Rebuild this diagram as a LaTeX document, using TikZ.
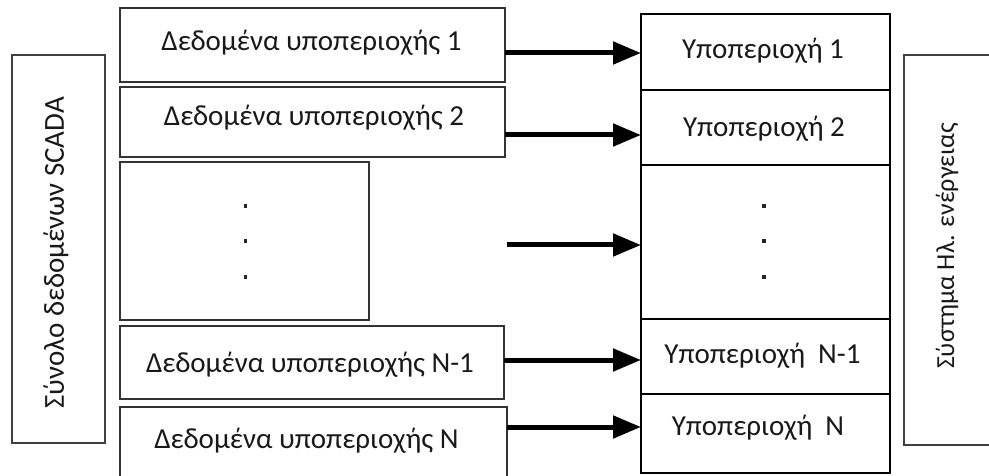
\documentclass[tikz,border=0pt]{standalone}
\usepackage{fontspec}
\setmainfont{Carlito}
\usetikzlibrary{arrows.meta,fit}
\begin{document}
\begin{tikzpicture}[x=1pt,y=-1pt,
  every node/.style={font=\fontsize{29}{34}\selectfont, text=black!90},
  label text/.style={anchor=base, inner sep=0pt},
  databox/.style={draw=black!80, line width=2pt, inner sep=0pt, outer sep=0pt},
  areabox/.style={draw=black, line width=1.8pt, inner sep=0pt, outer sep=0pt},
  sidebox/.style={draw=black!75, line width=2pt, inner sep=0pt, outer sep=0pt},
  feed/.style={line width=5pt, -{Triangle[length=28pt,width=22pt]}},
  vdot/.style={fill=black!85, minimum size=3.4pt, inner sep=0pt, outer sep=0pt, rectangle}
]
\useasboundingbox (0,0) rectangle (989,476);

% SCADA data set (left) and power system (right)
\node[sidebox, fit={(12,55) (105,443)}] (scada) {};
\node[rotate=90] (scadatxt) at (56,253) {Σύνολο δεδομένων SCADA};
\node[sidebox, fit={(904,55) (1010,445)}] (grid) {};
\node[rotate=90, font=\fontsize{26}{31}\selectfont] (gridtxt) at (947,246) {Σύστημα Ηλ. ενέργειας};

% per-area data blocks
\node[databox, fit={(120,8) (505,82)}] (l1) {};
\node[databox, fit={(120,87) (505,157)}] (l2) {};
\node[databox, fit={(120,162) (369,320)}] (ld) {};
\node[databox, fit={(120,326) (504,399)}] (ln1) {};
\node[databox, fit={(120,407) (507,490)}] (ln) {};
\node[label text] (l1txt) at (311.5,51) {Δεδομένα υποπεριοχής 1};
\node[label text] (l2txt) at (314,126) {Δεδομένα υποπεριοχής 2};
\node[label text] (ln1txt) at (310,372.5) {Δεδομένα υποπεριοχής N-1};
\node[label text] (lntxt) at (306.5,448) {Δεδομένα υποπεριοχής N};

% sub-areas of the power system
\node[areabox, fit={(641,14) (890,90)}] (r1) {};
\node[areabox, fit={(641,90) (890,165)}] (r2) {};
\node[areabox, fit={(641,165) (890,319)}] (rd) {};
\node[areabox, fit={(641,319) (890,394)}] (rn1) {};
\node[areabox, fit={(641,394) (890,473)}] (rn) {};
\node[label text] (r1txt) at (763,59) {Υποπεριοχή 1};
\node[label text] (r2txt) at (764,137) {Υποπεριοχή 2};
\node[label text] (rn1txt) at (762.5,363) {Υποπεριοχή~~N-1};
\node[label text] (rntxt) at (758,435) {Υποπεριοχή~~N};

% vertical ellipses
\foreach \yy [count=\i] in {206,241,277} {
  \node[vdot] (ldot\i) at (245.5,\yy) {};
  \node[vdot] (rdot\i) at (764,\yy) {};
}

% feed arrows
\coordinate (y1) at (0,53);
\coordinate (y2) at (0,135);
\coordinate (sd) at (507,245);
\coordinate (y4) at (0,360);
\coordinate (y5) at (0,427);
\draw[feed] (l1.east |- y1) -- (r1.west |- y1);
\draw[feed] (l2.east |- y2) -- (r2.west |- y2);
\draw[feed] (sd) -- (rd.west |- sd);
\draw[feed] (ln1.east |- y4) -- (rn1.west |- y4);
\draw[feed] (ln.east |- y5) -- (rn.west |- y5);
\end{tikzpicture}
\end{document}
